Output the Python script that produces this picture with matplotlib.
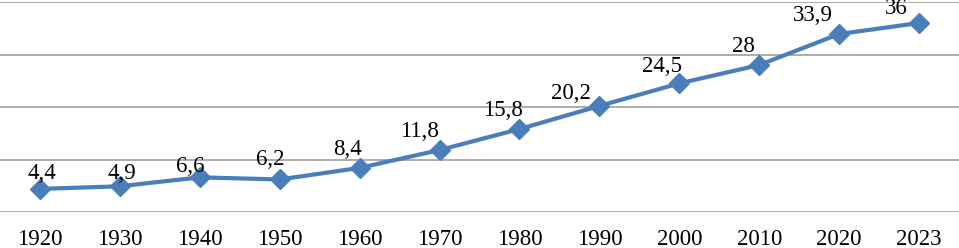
import matplotlib
matplotlib.use("Agg")
import matplotlib.pyplot as plt
import numpy as np

years = ['1920', '1930', '1940', '1950', '1960', '1970', '1980', '1990', '2000', '2010', '2020', '2023']
values = [4.4, 4.9, 6.6, 6.2, 8.4, 11.8, 15.8, 20.2, 24.5, 28, 33.9, 36]
labels = ['4,4', '4,9', '6,6', '6,2', '8,4', '11,8', '15,8', '20,2', '24,5', '28', '33,9', '36']

# label nudges (pixels)
dx = [2, 2, -10, -9, -12, -20, -16, -28, -17, -16, -26, -23]
dy = [15, 13, 11, 20, 18, 19, 19, 12, 17, 18, 19, 14]

plt.rcParams['font.family'] = ['Liberation Serif', 'DejaVu Serif']

fig = plt.figure(figsize=(9.59, 2.48), dpi=100)
ax = fig.add_axes([0, 1 - 212 / 248, 1, 210 / 248])

x = np.arange(len(years))
ax.plot(x, values, color='#4A7EBB', lw=3, marker='D', markersize=10, zorder=3)

for i, (v, t) in enumerate(zip(values, labels)):
    ax.annotate(t, (i, v), xytext=(dx[i], dy[i]), textcoords='offset pixels',
                ha='center', va='center', fontsize=16.5, color='black')

ax.set_xlim(-0.5, len(years) - 0.5)
ax.set_ylim(0, 40)
ax.set_yticks([0, 10, 20, 30, 40])
ax.set_yticklabels([])
ax.tick_params(axis='y', length=0)
ax.set_xticks(x)
ax.set_xticklabels(years, fontsize=16.5)
ax.tick_params(axis='x', length=0, pad=12.5)
ax.grid(axis='y', color='#A6A6A6', lw=1.3)
ax.set_axisbelow(True)
for s in ax.spines.values():
    s.set_visible(False)

fig.savefig('out.png', dpi=100)
